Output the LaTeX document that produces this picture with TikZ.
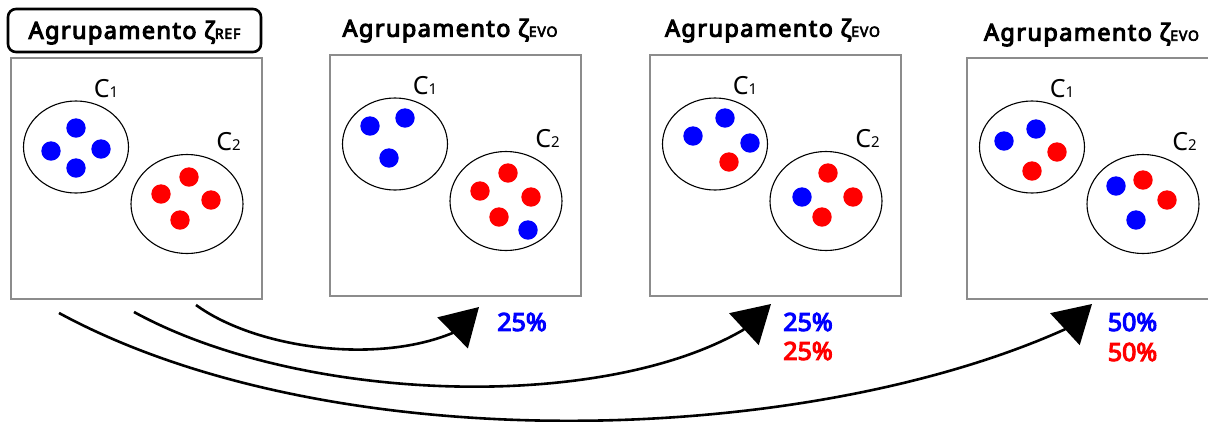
\documentclass[tikz,border=0pt]{standalone}
\usepackage{fontspec}
\setmainfont{Noto Sans}[AutoFakeBold=4.5]
\usetikzlibrary{arrows.meta,shapes.geometric}

\newcommand{\grp}[1]{\addfontfeature{LetterSpace=6}Agrupamento ζ{\fontsize{14}{14}\selectfont #1}}
\newcommand{\clab}[1]{C{\fontsize{15}{15}\selectfont #1}}

\begin{document}
\begin{tikzpicture}[x=1pt, y=-1pt,
    panel/.style={draw=gray!90, line width=1.6pt, minimum width=251pt, minimum height=241pt, inner sep=0pt, anchor=north west},
    cluster/.style={draw, ellipse, line width=1.1pt, inner sep=0pt},
    title/.style={font=\fontsize{23.5}{28}\selectfont\bfseries, inner sep=0pt},
    clabel/.style={font=\fontsize{25}{30}\selectfont, inner sep=0pt, anchor=base},
    pct/.style={font=\fontsize{25}{30}\selectfont\bfseries, inner sep=0pt},
    connector/.style={line width=2.6pt, -{Triangle[length=37pt,width=43pt]}}]
  \useasboundingbox (0,0) rectangle (1208,421);
  \clip (0,0) rectangle (1208,421);

  % reference grouping
  \begin{scope}[shift={(10,57)}]
    \node[panel] (ref) at (0,0) {};
    \node[title, draw, line width=2.6pt, rounded corners=8pt, minimum width=253pt, minimum height=43pt,
          text height=16.5pt, text depth=0pt] (refttl) at (124.5,-26.5) {\grp{REF}};
    \node[cluster, minimum width=105pt, minimum height=92pt] (refc1) at (66,90) {};
    \node[cluster, minimum width=112pt, minimum height=99pt] (refc2) at (177,147) {};
    \node[clabel] (refl1) at (96,40) {\clab{1}};
    \node[clabel] (refl2) at (218.5,93) {\clab{2}};
    \foreach \p in {(66,71),(41,94),(91,92),(66,111)} \fill[blue] \p circle (9.7);
    \foreach \p in {(179,120),(151,137),(201,143),(170,163)} \fill[red] \p circle (9.7);
  \end{scope}

  % evolved grouping 1
  \begin{scope}[shift={(329,54)}]
    \node[panel] (evoa) at (0,0) {};
    \node[title, anchor=base] (evoattl) at (121,-17.3) {\grp{EVO}};
    \node[cluster, minimum width=105pt, minimum height=92pt] (evoac1) at (66,90) {};
    \node[cluster, minimum width=112pt, minimum height=99pt] (evoac2) at (177,147) {};
    \node[clabel] (evoal1) at (96,40) {\clab{1}};
    \node[clabel] (evoal2) at (218.5,93) {\clab{2}};
    \foreach \p in {(41,72),(76,64),(60,104),(199,176)} \fill[blue] \p circle (9.7);
    \foreach \p in {(179,119),(151,137),(202,143),(170,163)} \fill[red] \p circle (9.7);
  \end{scope}

  % evolved grouping 2
  \begin{scope}[shift={(649,54)}]
    \node[panel] (evob) at (0,0) {};
    \node[title, anchor=base] (evobttl) at (123.5,-17.3) {\grp{EVO}};
    \node[cluster, minimum width=105pt, minimum height=92pt] (evobc1) at (66,90) {};
    \node[cluster, minimum width=112pt, minimum height=99pt] (evobc2) at (177,147) {};
    \node[clabel] (evobl1) at (96,40) {\clab{1}};
    \node[clabel] (evobl2) at (218.5,93) {\clab{2}};
    \foreach \p in {(44,82),(76,64),(101,89),(153,143)} \fill[blue] \p circle (9.7);
    \foreach \p in {(80,108),(179,119),(204,143),(173,163)} \fill[red] \p circle (9.7);
  \end{scope}

  % evolved grouping 3
  \begin{scope}[shift={(966,57)}]
    \node[panel] (evoc) at (0,0) {};
    \node[title, anchor=base] (evocttl) at (125.5,-16.3) {\grp{EVO}};
    \node[cluster, minimum width=105pt, minimum height=92pt] (evocc1) at (66,90) {};
    \node[cluster, minimum width=112pt, minimum height=99pt] (evocc2) at (177,147) {};
    \node[clabel] (evocl1) at (96,40) {\clab{1}};
    \node[clabel] (evocl2) at (218.5,93) {\clab{2}};
    \foreach \p in {(38,84),(70,72),(150,129),(170,163)} \fill[blue] \p circle (9.7);
    \foreach \p in {(91,95),(66,114),(177,123),(201,143)} \fill[red] \p circle (9.7);
  \end{scope}

  % changes
  \node[pct, text=blue] (pa) at (522,322) {25\%};
  \node[pct, text=blue] (pb1) at (808,322) {25\%};
  \node[pct, text=red] (pb2) at (808,351) {25\%};
  \node[pct, text=blue] (pc1) at (1132.5,322) {50\%};
  \node[pct, text=red] (pc2) at (1132.5,352) {50\%};

  \coordinate (srca) at (196,305);
  \coordinate (backa) at (452.5,333);
  \coordinate (tipa) at (479,307);
  \coordinate (srcb) at (134,312);
  \coordinate (backb) at (743,330);
  \coordinate (tipb) at (771,304);
  \coordinate (srcc) at (59,313);
  \coordinate (backc) at (1064.5,329.5);
  \coordinate (tipc) at (1092,304);
  \draw[connector] (srca) .. controls (255,348) and (375,365) .. (backa) -- (tipa);
  \draw[connector] (srcb) .. controls (300,403) and (600,413) .. (backb) -- (tipb);
  \draw[connector] (srcc) .. controls (330,460) and (800,448) .. (backc) -- (tipc);
\end{tikzpicture}
\end{document}
